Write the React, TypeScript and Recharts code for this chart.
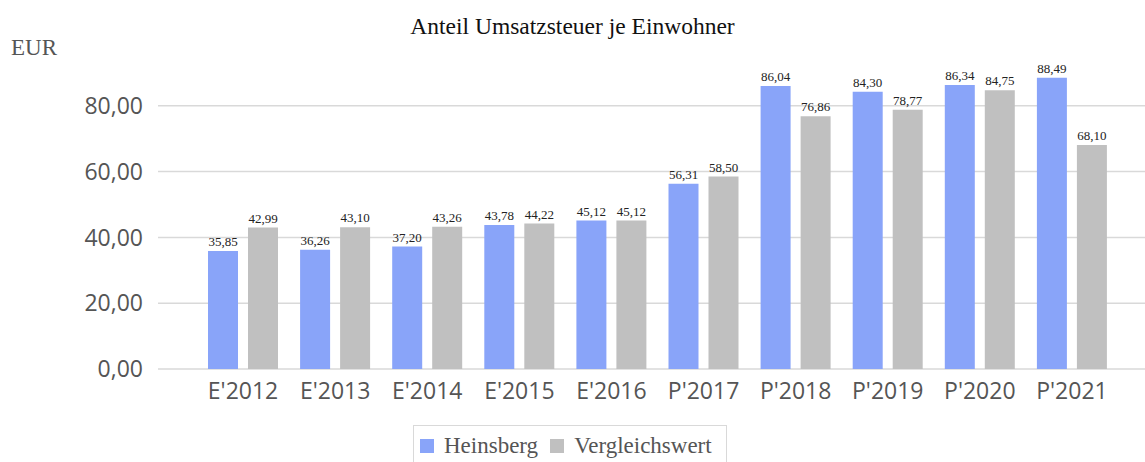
import { BarChart, Bar, XAxis, YAxis, CartesianGrid, LabelList } from 'recharts'

const years = ["E'2012", "E'2013", "E'2014", "E'2015", "E'2016", "P'2017", "P'2018", "P'2019", "P'2020", "P'2021"]
const heinsberg = [35.85, 36.26, 37.2, 43.78, 45.12, 56.31, 86.04, 84.3, 86.34, 88.49]
const vergleich = [42.99, 43.1, 43.26, 44.22, 45.12, 58.5, 76.86, 78.77, 84.75, 68.1]
const yTicks = [0, 20, 40, 60, 80]

const data = years.map((year, i) => ({ year, heinsberg: heinsberg[i], vergleich: vergleich[i] }))

const fmt = (v: number) => v.toFixed(2).replace('.', ',')

const BLUE = '#89a4f9'
const GREY = '#c0c0c0'
const SERIF = '"Liberation Serif", serif'
const SANS = '"Open Sans", sans-serif'

function LegendBox() {
  const item = (color: string, label: string, mr: number) => (
    <span style={{ display: 'inline-flex', alignItems: 'center', marginRight: mr }}>
      <span style={{ width: 14, height: 14, background: color, display: 'inline-block', marginRight: 10 }} />
      <span>{label}</span>
    </span>
  )
  return (
    <div
      style={{
        position: 'absolute',
        left: 413,
        top: 425,
        width: 314,
        height: 40,
        boxSizing: 'border-box',
        border: '1px solid #d9d9d9',
        borderBottom: 'none',
        padding: '7px 0 0 6px',
        fontFamily: SERIF,
        fontSize: 23,
        color: '#555',
        whiteSpace: 'nowrap',
        lineHeight: '26px',
      }}
    >
      {item(BLUE, 'Heinsberg', 12)}
      {item(GREY, 'Vergleichswert', 0)}
    </div>
  )
}

export default function App() {
  return (
    <div style={{ position: 'absolute', left: 0, top: 0, width: 1145, height: 462, background: '#fff' }}>
      <div
        style={{
          position: 'absolute',
          left: 0,
          width: 1145,
          top: 13,
          textAlign: 'center',
          fontFamily: SERIF,
          fontSize: 23.5,
          color: '#111',
        }}
      >
        Anteil Umsatzsteuer je Einwohner
      </div>
      <div
        style={{
          position: 'absolute',
          left: 11,
          top: 35,
          fontFamily: SERIF,
          fontSize: 23,
          color: '#555',
        }}
      >
        EUR
      </div>
      <BarChart
        width={1145}
        height={462}
        data={data}
        margin={{ top: 40, right: 0, bottom: 63, left: 0 }}
        barGap={10}
        barCategoryGap={11}
      >
        <CartesianGrid vertical={false} stroke="#d9d9d9" strokeWidth={1.5} horizontalValues={yTicks} />
        <XAxis
          dataKey="year"
          height={30}
          axisLine={false}
          tickLine={false}
          padding={{ left: 39, right: 27 }}
          tick={{ fill: '#555', fontSize: 23, fontFamily: SANS }}
          tickMargin={8}
        />
        <YAxis
          width={158}
          domain={[0, 100]}
          ticks={yTicks}
          axisLine={false}
          tickLine={false}
          tickSize={13}
          tickFormatter={fmt}
          tick={{ fill: '#555', fontSize: 23, fontFamily: SANS }}
        />
        <Bar dataKey="heinsberg" name="Heinsberg" fill={BLUE} barSize={30} isAnimationActive={false}>
          <LabelList
            dataKey="heinsberg"
            position="top"
            offset={5}
            formatter={(v: any) => fmt(Number(v))}
            style={{ fill: '#222', fontSize: 13, fontFamily: SERIF }}
          />
        </Bar>
        <Bar dataKey="vergleich" name="Vergleichswert" fill={GREY} barSize={30} isAnimationActive={false}>
          <LabelList
            dataKey="vergleich"
            position="top"
            offset={5}
            formatter={(v: any) => fmt(Number(v))}
            style={{ fill: '#222', fontSize: 13, fontFamily: SERIF }}
          />
        </Bar>
      </BarChart>
      <LegendBox />
    </div>
  )
}
